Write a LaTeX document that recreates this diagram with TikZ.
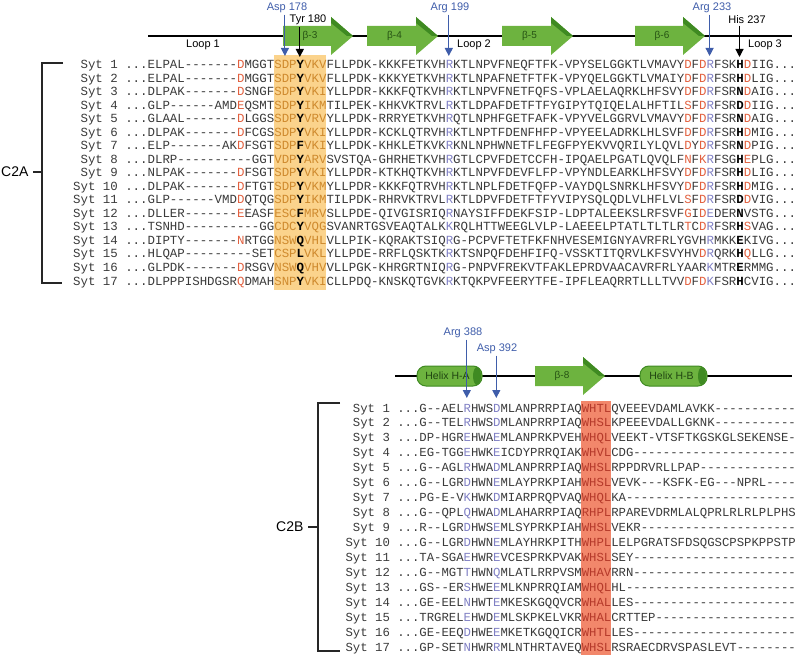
\documentclass[tikz,border=0pt]{standalone}
\usepackage{fontspec}
\setmainfont{Liberation Sans}
\setmonofont{Liberation Mono}
\usetikzlibrary{arrows.meta, positioning}
\definecolor{cgreen}{HTML}{6DB33F}
\definecolor{cgreendark}{HTML}{3F8A22}
\definecolor{cblue}{HTML}{3F5DAA}
\definecolor{cres}{HTML}{E2603F}
\definecolor{cresblue}{HTML}{7F7FC4}
\definecolor{ctext}{HTML}{3A3A3A}
\definecolor{cboxa}{HTML}{FBD38C}
\definecolor{cboxatext}{HTML}{CF8A2E}
\definecolor{cboxb}{HTML}{F2876B}
\definecolor{cboxbtext}{HTML}{B5392A}
\tikzset{
  every picture/.style={line width=1.2pt},
  seqa/.style={anchor=west, inner sep=0pt, text height=8pt, text depth=0pt, text=ctext, font=\ttfamily\fontsize{12.42}{14}\selectfont},
  seqb/.style={seqa, font=\ttfamily\fontsize{12.3}{14}\selectfont},
  backbone/.style={draw=black, line width=1.6pt},
  strandlabel/.style={font=\fontsize{10}{12}\selectfont, text=cgreendark!60!black, inner sep=1pt},
  helixlabel/.style={font=\fontsize{10.5}{12}\selectfont, text=cgreendark!50!black, inner sep=1pt},
  site/.style={font=\fontsize{11}{13}\selectfont, inner sep=1pt},
  pointer/.style={-{Triangle[length=8pt, width=8pt]}, line width=1.1pt},
  looplabel/.style={font=\fontsize{11}{13}\selectfont, inner sep=1pt},
  domainlabel/.style={font=\fontsize{14}{16}\selectfont, inner sep=0pt},
  bracket/.style={draw=black!85, line width=1.5pt},
}
\newcommand{\resr}[1]{\textcolor{cres}{#1}}
\newcommand{\resb}[1]{\textcolor{cresblue}{#1}}
\newcommand{\resk}[1]{\textcolor{black}{\bfseries #1}}
\newcommand{\boxa}[1]{\textcolor{cboxatext}{#1}}
\newcommand{\boxb}[1]{\textcolor{cboxbtext}{#1}}
\newcommand{\gap}[1]{\foreach \g in {1,...,#1}{-}}
\newcommand{\strand}[5]{%
  \fill[cgreen] (#2,{#4-10}) -- ({#3-22},{#4-10}) -- ({#3-22},{#4-19}) -- (#3,#4) -- ({#3-22},{#4+19}) -- ({#3-22},{#4+10}) -- (#2,{#4+10}) -- cycle;
  \fill[cgreendark] ({#3-22},{#4-19}) -- (#3,#4) -- ({#3-6},#4) -- ({#3-22},{#4-13}) -- cycle;
  \node[strandlabel] (#1) at ({(#2+#3)/2-8},#4) {#5};}
\newcommand{\helix}[5]{%
  \draw[cgreendark, fill=cgreen, line width=1pt, rounded corners=9pt] (#2,{#4-10}) rectangle (#3,{#4+10});
  \fill[cgreendark] ({#3-5},#4) ellipse [x radius=4pt, y radius=9pt];
  \node[helixlabel] (#1) at ({(#2+#3)/2-2},#4) {#5};}

\begin{document}
\begin{tikzpicture}[x=1pt, y=-1pt]
  \useasboundingbox (0,0) rectangle (800,660);
  % highlighted columns
  \fill[cboxa] (273.7,55) rectangle (325.8,290);
  \fill[cboxb] (581.2,401) rectangle (610.7,655);

  % C2A secondary structure
  \coordinate (astart) at (148,36);
  \coordinate (aend) at (792,36);
  \draw[backbone] (astart) -- (aend);
  \strand{b3}{283}{353}{36}{β-3}
  \strand{b4}{367}{438}{36}{β-4}
  \strand{b5}{502}{573}{36}{β-5}
  \strand{b6}{635}{705}{36}{β-6}
  \node[looplabel] (loop1) at (203,45) {Loop 1};
  \node[looplabel] (loop2) at (474,45) {Loop 2};
  \node[looplabel] (loop3) at (765,45) {Loop 3};

  \node[site, text=cblue] (asp178) at (287,8) {Asp 178};
  \node[site] (tyr180) at (308,20) {Tyr 180};
  \node[site, text=cblue] (arg199) at (450,8) {Arg 199};
  \node[site, text=cblue] (arg233) at (712,8) {Arg 233};
  \node[site] (his237) at (747,20) {His 237};
  \coordinate (d178) at (284.9,56);
  \coordinate (y180) at (299.8,57);
  \coordinate (r199) at (448.8,56);
  \coordinate (r233) at (709.6,56);
  \coordinate (h237) at (739.5,57);
  \draw[pointer, cblue] (asp178.south -| d178) -- (d178);
  \draw[pointer, black] (tyr180.south -| y180) -- (y180);
  \draw[pointer, cblue] (arg199.south -| r199) -- (r199);
  \draw[pointer, cblue] (arg233.south -| r233) -- (r233);
  \draw[pointer, black] (his237.south -| h237) -- (h237);

  % C2A alignment
  \node[seqa] (a1) at (72.5,65) {\hphantom{0}Syt~1~...ELPAL\gap{7}\resr{D}MGGT\boxa{SDP}\resk{Y}\boxa{VKV}FLLPDK-KKKFETKVH\resb{R}KTLNPVFNEQFTFK-VPYSELGGKTLVMAVY\resr{D}F\resr{D}\resb{R}FSK\resk{H}\resr{D}IIG...};
  \node[seqa] (a2) at (72.5,78.5) {\hphantom{0}Syt~2~...ELPAL\gap{7}\resr{D}MGGT\boxa{SDP}\resk{Y}\boxa{VKV}FLLPDK-KKKYETKVH\resb{R}KTLNPAFNETFTFK-VPYQELGGKTLVMAIY\resr{D}F\resr{D}\resb{R}FSR\resk{H}\resr{D}LIG...};
  \node[seqa] (a3) at (72.5,92) {\hphantom{0}Syt~3~...DLPAK\gap{7}\resr{D}SNGF\boxa{SDP}\resk{Y}\boxa{VKI}YLLPDR-KKKFQTKVH\resb{R}KTLNPVFNETFQFS-VPLAELAQRKLHFSVY\resr{D}F\resr{D}\resb{R}FSR\resk{N}\resr{D}AIG...};
  \node[seqa] (a4) at (72.5,105.5) {\hphantom{0}Syt~4~...GLP\gap{6}AMD\resr{E}QSMT\boxa{SDP}\resk{Y}\boxa{IKM}TILPEK-KHKVKTRVL\resb{R}KTLDPAFDETFTFYGIPYTQIQELALHFTIL\resr{S}F\resr{D}\resb{R}FSR\resk{D}\resr{D}IIG...};
  \node[seqa] (a5) at (72.5,119) {\hphantom{0}Syt~5~...GLAAL\gap{7}\resr{D}LGGS\boxa{SDP}\resk{Y}\boxa{VRV}YLLPDK-RRRYETKVH\resb{R}QTLNPHFGETFAFK-VPYVELGGRVLVMAVY\resr{D}F\resr{D}\resb{R}FSR\resk{N}\resr{D}AIG...};
  \node[seqa] (a6) at (72.5,132.5) {\hphantom{0}Syt~6~...DLPAK\gap{7}\resr{D}FCGS\boxa{SDP}\resk{Y}\boxa{VKI}YLLPDR-KCKLQTRVH\resb{R}KTLNPTFDENFHFP-VPYEELADRKLHLSVF\resr{D}F\resr{D}\resb{R}FSR\resk{H}\resr{D}MIG...};
  \node[seqa] (a7) at (72.5,146) {\hphantom{0}Syt~7~...ELP\gap{7}AK\resr{D}FSGT\boxa{SDP}\resk{F}\boxa{VKI}YLLPDK-KHKLETKVK\resb{R}KNLNPHWNETFLFEGFPYEKVVQRILYLQVL\resr{D}Y\resr{D}\resb{R}FSR\resk{N}\resr{D}PIG...};
  \node[seqa] (a8) at (72.5,159.5) {\hphantom{0}Syt~8~...DLRP\gap{10}GGT\boxa{VDP}\resk{Y}\boxa{ARV}SVSTQA-GHRHETKVH\resb{R}GTLCPVFDETCCFH-IPQAELPGATLQVQLF\resr{N}F\resr{K}\resb{R}FSG\resk{H}\resr{E}PLG...};
  \node[seqa] (a9) at (72.5,173) {\hphantom{0}Syt~9~...NLPAK\gap{7}\resr{D}FSGT\boxa{SDP}\resk{Y}\boxa{VKI}YLLPDR-KTKHQTKVH\resb{R}KTLNPVFDEVFLFP-VPYNDLEARKLHFSVY\resr{D}F\resr{D}\resb{R}FSR\resk{H}\resr{D}LIG...};
  \node[seqa] (a10) at (72.5,186.5) {Syt~10~...DLPAK\gap{7}\resr{D}FTGT\boxa{SDP}\resk{Y}\boxa{VKM}YLLPDR-KKKFQTRVH\resb{R}KTLNPLFDETFQFP-VAYDQLSNRKLHFSVY\resr{D}F\resr{D}\resb{R}FSR\resk{H}\resr{D}MIG...};
  \node[seqa] (a11) at (72.5,200) {Syt~11~...GLP\gap{6}VMD\resr{D}QTQG\boxa{SDP}\resk{Y}\boxa{IKM}TILPDK-RHRVKTRVL\resb{R}KTLDPVFDETFTFYVIPYSQLQDLVLHFLVL\resr{S}F\resr{D}\resb{R}FSR\resk{D}\resr{D}VIG...};
  \node[seqa] (a12) at (72.5,213.5) {Syt~12~...DLLER\gap{7}\resr{E}EASF\boxa{ESC}\resk{F}\boxa{MRV}SLLPDE-QIVGISRIQ\resb{R}NAYSIFFDEKFSIP-LDPTALEEKSLRFSVF\resr{G}I\resr{D}\resb{E}DER\resk{N}VSTG...};
  \node[seqa] (a13) at (72.5,227) {Syt~13~...TSNHD\gap{10}GG\boxa{CDC}\resk{Y}\boxa{VQG}SVANRTGSVEAQTALK\resb{K}RQLHTTWEEGLVLP-LAEEELPTATLTLTLR\resr{T}C\resr{D}\resb{R}FSR\resk{H}\resr{S}VAG...};
  \node[seqa] (a14) at (72.5,240.5) {Syt~14~...DIPTY\gap{7}\resr{N}RTGG\boxa{NSW}\resk{Q}\boxa{VHL}VLLPIK-KQRAKTSIQ\resb{R}G-PCPVFTETFKFNHVESEMIGNYAVRFRLYGVH\resb{R}MKK\resk{E}KIVG...};
  \node[seqa] (a15) at (72.5,254) {Syt~15~...HLQAP\gap{9}SET\boxa{CSP}\resk{L}\boxa{VKL}YLLPDE-RRFLQSKTK\resb{R}KTSNPQFDEHFIFQ-VSSKTITQRVLKFSVYHV\resr{D}\resb{R}QRK\resk{H}\resr{Q}LLG...};
  \node[seqa] (a16) at (72.5,267.5) {Syt~16~...GLPDK\gap{7}\resr{D}RSGV\boxa{NSW}\resk{Q}\boxa{VHV}VLLPGK-KHRGRTNIQ\resb{R}G-PNPVFREKVTFAKLEPRDVAACAVRFRLYAAR\resb{K}MTR\resk{E}RMMG...};
  \node[seqa] (a17) at (72.5,281) {Syt~17~...DLPPPISHDGSR\resr{Q}DMAH\boxa{SNP}\resk{Y}\boxa{VKI}CLLPDQ-KNSKQTGVK\resb{R}KTQKPVFEERYTFE-IPFLEAQRRTLLLTVV\resr{D}F\resr{D}\resb{K}FSR\resk{H}CVIG...};

  % C2A bracket
  \coordinate (atop) at (42,63);
  \coordinate (atoptick) at (63,63);
  \coordinate (abot) at (42,283);
  \coordinate (abottick) at (62,283);
  \coordinate (amid) at (42,172);
  \coordinate (adash) at (33,172);
  \draw[bracket] (atoptick) -- (atop) -- (abot) -- (abottick);
  \draw[bracket] (amid) -- (adash);
  \node[domainlabel, left=4pt of adash] (c2a) {C2A};

  % C2B secondary structure
  \coordinate (bstart) at (395,376);
  \coordinate (bend) at (792,376);
  \draw[backbone] (bstart) -- (bend);
  \helix{hA}{417}{482}{376}{Helix H-A}
  \strand{b8}{535}{605}{376}{β-8}
  \helix{hB}{640}{707}{376}{Helix H-B}
  \node[site, text=cblue] (arg388) at (463,333) {Arg 388};
  \node[site, text=cblue] (asp392) at (497,349) {Asp 392};
  \coordinate (r388) at (466.8,398);
  \coordinate (d392) at (496.3,398);
  \draw[pointer, cblue] (arg388.south -| r388) -- (r388);
  \draw[pointer, cblue] (asp392.south -| d392) -- (d392);

  % C2B alignment
  \node[seqb] (bb1) at (345,408) {\hphantom{0}Syt~1~...G--AEL\resb{R}HWS\resb{D}MLANPRRPIAQ\boxb{WHTL}QVEEEVDAMLAVKK\gap{11}};
  \node[seqb] (bb2) at (345,422.9) {\hphantom{0}Syt~2~...G--TEL\resb{R}HWS\resb{D}MLANPRRPIAQ\boxb{WHSL}KPEEEVDALLGKNK\gap{11}};
  \node[seqb] (bb3) at (345,437.9) {\hphantom{0}Syt~3~...DP-HGR\resb{E}HWA\resb{E}MLANPRKPVEH\boxb{WHQL}VEEKT-VTSFTKGSKGLSEKENSE-};
  \node[seqb] (bb4) at (345,452.8) {\hphantom{0}Syt~4~...EG-TGG\resb{E}HWK\resb{E}ICDYPRRQIAK\boxb{WHVL}CDG\gap{22}};
  \node[seqb] (bb5) at (345,467.8) {\hphantom{0}Syt~5~...G--AGL\resb{R}HWA\resb{D}MLANPRRPIAQ\boxb{WHSL}RPPDRVRLLPAP\gap{13}};
  \node[seqb] (bb6) at (345,482.7) {\hphantom{0}Syt~6~...G--LGR\resb{D}HWN\resb{E}MLAYPRKPIAH\boxb{WHSL}VEVK---KSFK-EG---NPRL----};
  \node[seqb] (bb7) at (345,497.6) {\hphantom{0}Syt~7~...PG-E-V\resb{K}HWK\resb{D}MIARPRQPVAQ\boxb{WHQL}KA\gap{23}};
  \node[seqb] (bb8) at (345,512.6) {\hphantom{0}Syt~8~...G--QPL\resb{Q}HWA\resb{D}MLAHARRPIAQ\boxb{RHPL}RPAREVDRMLALQPRLRLRLPLPHS};
  \node[seqb] (bb9) at (345,527.5) {\hphantom{0}Syt~9~...R--LGR\resb{D}HWS\resb{E}MLSYPRKPIAH\boxb{WHSL}VEKR\gap{21}};
  \node[seqb] (bb10) at (345,542.5) {Syt~10~...G--LGR\resb{D}HWN\resb{E}MLAYHRKPITH\boxb{WHPL}LELPGRATSFDSQGSCPSPKPPSTP};
  \node[seqb] (bb11) at (345,557.4) {Syt~11~...TA-SGA\resb{E}HWR\resb{E}VCESPRKPVAK\boxb{WHSL}SEY\gap{22}};
  \node[seqb] (bb12) at (345,572.3) {Syt~12~...G--MGT\resb{T}HWN\resb{Q}MLATLRRPVSM\boxb{WHAV}RRN\gap{22}};
  \node[seqb] (bb13) at (345,587.3) {Syt~13~...GS--ER\resb{S}HWE\resb{E}MLKNPRRQIAM\boxb{WHQL}HL\gap{23}};
  \node[seqb] (bb14) at (345,602.2) {Syt~14~...GE-EEL\resb{N}HWT\resb{E}MKESKGQQVCR\boxb{WHAL}LES\gap{22}};
  \node[seqb] (bb15) at (345,617.2) {Syt~15~...TRGREL\resb{E}HWD\resb{E}MLSKPKELVKR\boxb{WHAL}CRTTEP\gap{19}};
  \node[seqb] (bb16) at (345,632.1) {Syt~16~...GE-EEQ\resb{D}HWE\resb{E}MKETKGQQICR\boxb{WHTL}LES\gap{22}};
  \node[seqb] (bb17) at (345,647) {Syt~17~...GP-SET\resb{N}HWR\resb{R}MLNTHRTAVEQ\boxb{WHSL}RSRAECDRVSPASLEVT\gap{8}};

  % C2B bracket
  \coordinate (btop) at (318,403);
  \coordinate (btoptick) at (340,403);
  \coordinate (bbot) at (318,651);
  \coordinate (bbottick) at (340,651);
  \coordinate (bmid) at (318,527);
  \coordinate (bdash) at (308,527);
  \draw[bracket] (btoptick) -- (btop) -- (bbot) -- (bbottick);
  \draw[bracket] (bmid) -- (bdash);
  \node[domainlabel, left=4pt of bdash] (c2b) {C2B};
\end{tikzpicture}
\end{document}
